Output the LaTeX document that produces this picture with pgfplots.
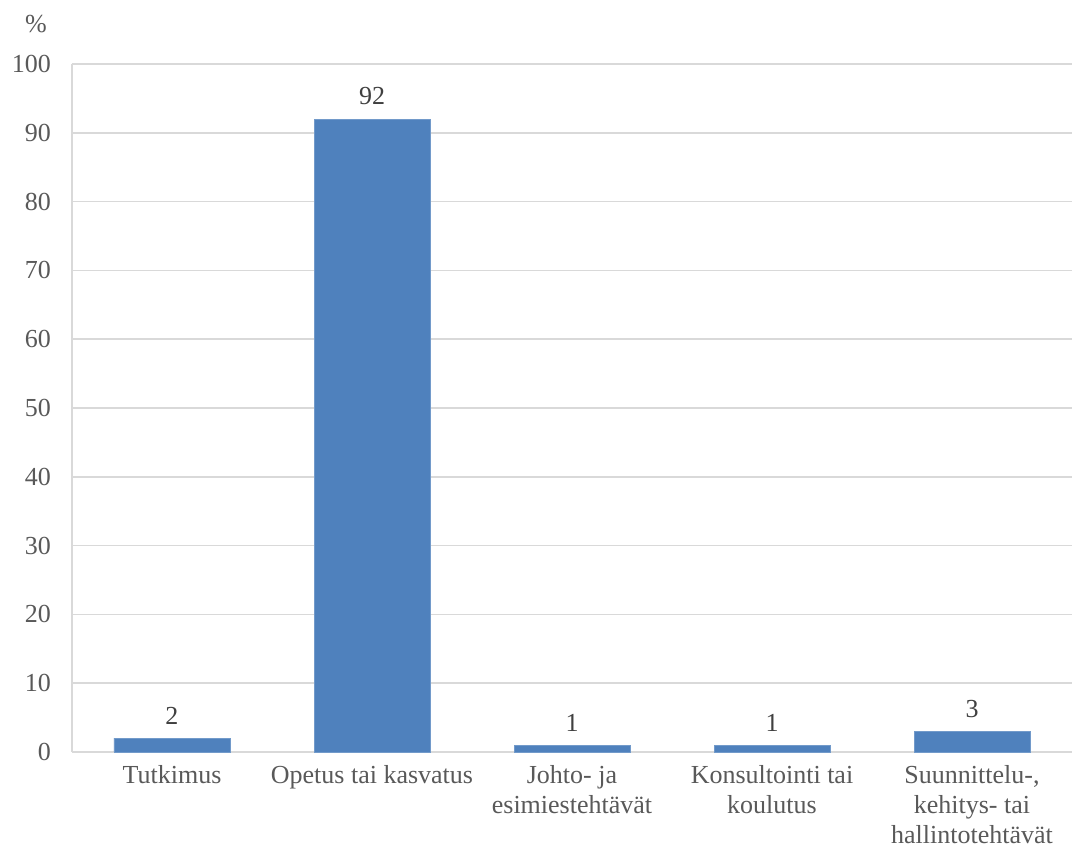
\documentclass[border=0pt]{standalone}
\usepackage{pgfplots}
\pgfplotsset{compat=1.18}
\usepackage{fontspec}
\setmainfont{Liberation Serif}
\definecolor{barblue}{HTML}{4F81BD}
\definecolor{gridgray}{HTML}{D9D9D9}
\definecolor{ticktext}{HTML}{595959}
\definecolor{labeltext}{HTML}{404040}
\begin{document}
\begin{tikzpicture}
\useasboundingbox (-36pt,-48.5pt) rectangle (500pt,376pt);
\begin{axis}[
  at={(0,0)}, anchor=south west,
  scale only axis,
  width=500pt, height=344pt,
  xmin=-0.5, xmax=4.5,
  ymin=0, ymax=100,
  ytick={0,10,...,100},
  xtick={0,1,2,3,4},
  xticklabels={Tutkimus,Opetus tai kasvatus,{Johto- ja\\esimiestehtävät},{Konsultointi tai\\koulutus},{Suunnittelu-,\\kehitys- tai\\hallintotehtävät}},
  xticklabel style={align=center, font=\fontsize{13}{15}\selectfont, text=ticktext, yshift=-3pt},
  yticklabel style={font=\fontsize{13}{14}\selectfont, text=ticktext, xshift=-7pt},
  /pgf/number format/assume math mode=true,
  ymajorgrids, grid style={gridgray, line width=0.8pt},
  axis line style={gridgray, line width=0.8pt, -},
  axis x line*=bottom, axis y line*=left,
  major tick length=0pt,
  clip=false,
]
\addplot[ybar, bar width=58pt, fill=barblue, draw=barblue!80!white,
  nodes near coords, every node near coord/.append style={font=\fontsize{13}{14}\selectfont, text=labeltext, yshift=3.5pt}]
  coordinates {(0,2) (1,92) (2,1) (3,1) (4,3)};
\node[font=\fontsize{13}{14}\selectfont, text=ticktext] at (rel axis cs:0,1) [xshift=-18pt, yshift=20pt] {\%};
\end{axis}
\end{tikzpicture}
\end{document}
